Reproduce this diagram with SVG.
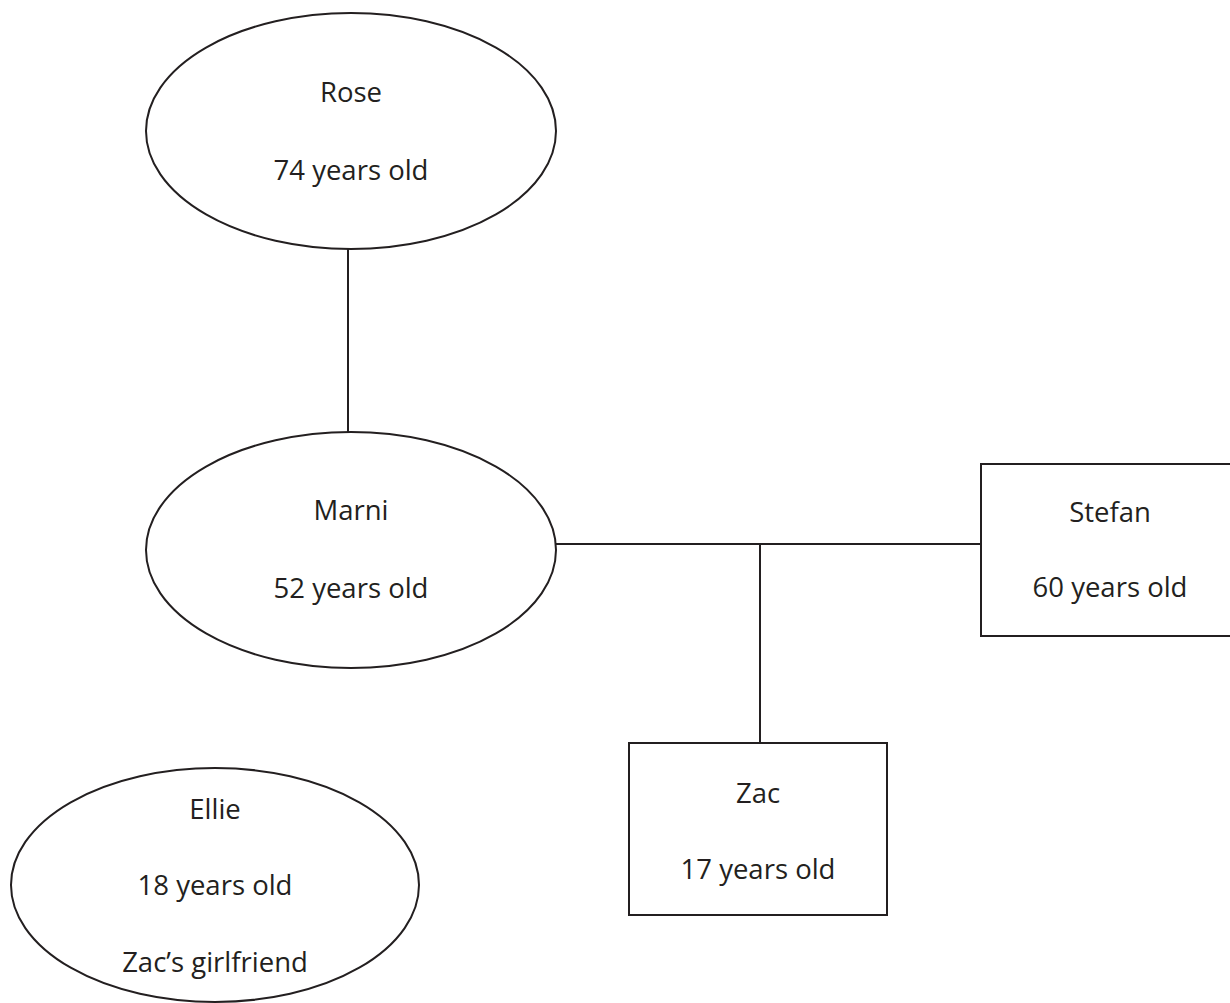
<svg xmlns="http://www.w3.org/2000/svg" width="1230" height="1003" viewBox="0 0 1230 1003">
<style>
.shape{fill:#ffffff;stroke:#231f20;stroke-width:2}
.conn{stroke:#231f20;stroke-width:2;fill:none}
text{font-family:"Open Sans","Noto Sans","Liberation Sans",sans-serif;font-size:27.5px;fill:#231f20;text-anchor:middle}
</style>
<rect width="1230" height="1003" fill="#ffffff"/>
<g id="connectors">
<line class="conn" x1="348" y1="249" x2="348" y2="432"/>
<line class="conn" x1="556" y1="544" x2="981" y2="544"/>
<line class="conn" x1="760" y1="544" x2="760" y2="743"/>
</g>
<g id="rose">
<ellipse class="shape" cx="351" cy="131" rx="205" ry="118"/>
<text x="351" y="102">Rose</text>
<text x="351" y="180">74 years old</text>
</g>
<g id="marni">
<ellipse class="shape" cx="351" cy="550" rx="205" ry="118"/>
<text x="351" y="520">Marni</text>
<text x="351" y="598">52 years old</text>
</g>
<g id="stefan">
<rect class="shape" x="981" y="464" width="260" height="172"/>
<text x="1110" y="522">Stefan</text>
<text x="1110" y="597">60 years old</text>
</g>
<g id="zac">
<rect class="shape" x="629" y="743" width="258" height="172"/>
<text x="758" y="803">Zac</text>
<text x="758" y="879">17 years old</text>
</g>
<g id="ellie">
<ellipse class="shape" cx="215" cy="885" rx="204" ry="117"/>
<text x="215" y="819">Ellie</text>
<text x="215" y="895">18 years old</text>
<text x="215" y="972">Zac’s girlfriend</text>
</g>
</svg>
